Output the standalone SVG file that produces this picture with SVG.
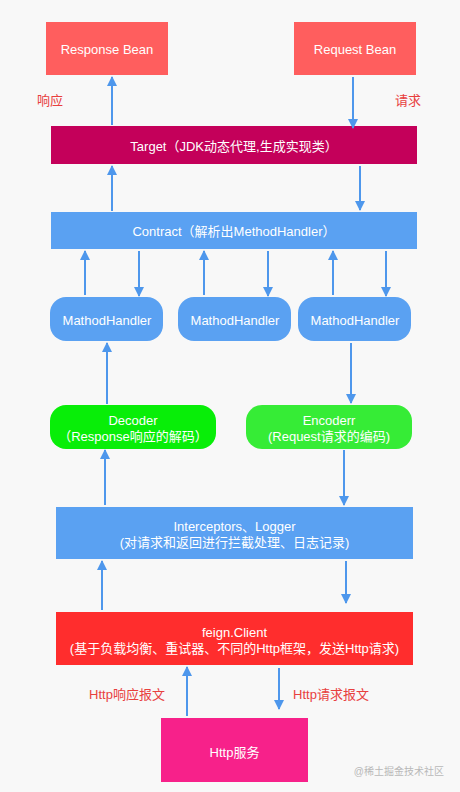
<svg xmlns="http://www.w3.org/2000/svg" width="460" height="792" viewBox="0 0 460 792">
<defs>
<marker id="ah" markerUnits="userSpaceOnUse" markerWidth="10" markerHeight="13" refX="9" refY="5" orient="auto">
<path d="M0,0 L10,5 L0,10 Z" fill="#4E97EC"/>
</marker>
<style>
text{font-family:"Liberation Sans","Noto Sans CJK SC",Arial,sans-serif;font-size:13px;fill:#FFFFFF;text-anchor:middle;dominant-baseline:central}
.lbl{fill:#E8403E}
.wm{fill:#B8B8B8;font-size:10px;text-anchor:end}
.c line{stroke:#4E97EC;stroke-width:2;marker-end:url(#ah)}
.blue{fill:#5AA1F2}
</style>
</defs>
<rect width="460" height="792" fill="#F8F8F8"/>
<g id="response-bean"><rect x="46" y="22" width="122" height="53" fill="#FF5E5E"/><text x="107" y="49">Response Bean</text></g>
<g id="request-bean"><rect x="294" y="22" width="122" height="53" fill="#FF5E5E"/><text x="355" y="49">Request Bean</text></g>
<g id="target"><rect x="51" y="126" width="366" height="38" fill="#C4005A"/><text x="234" y="146">Target（JDK动态代理,生成实现类）</text></g>
<g id="contract"><rect x="51" y="212" width="366" height="37" class="blue"/><text x="234" y="231">Contract（解析出MethodHandler）</text></g>
<g id="mh1"><rect x="50" y="297" width="113" height="44" rx="16" class="blue"/><text x="107" y="320">MathodHandler</text></g>
<g id="mh2"><rect x="178" y="297" width="113" height="44" rx="16" class="blue"/><text x="235" y="320">MathodHandler</text></g>
<g id="mh3"><rect x="298" y="297" width="113" height="44" rx="16" class="blue"/><text x="355" y="320">MathodHandler</text></g>
<g id="decoder"><rect x="50" y="405" width="166" height="44" rx="16" fill="#08EE08"/><text x="133" y="420">Decoder</text><text x="133" y="436">（Response响应的解码）</text></g>
<g id="encoder"><rect x="246" y="405" width="166" height="44" rx="16" fill="#36EC36"/><text x="329" y="420">Encoderr</text><text x="329" y="436">(Request请求的编码)</text></g>
<g id="interceptors"><rect x="56" y="507" width="357" height="52" class="blue"/><text x="234.5" y="526">Interceptors、Logger</text><text x="234.5" y="542">(对请求和返回进行拦截处理、日志记录)</text></g>
<g id="feign-client"><rect x="56" y="612" width="357" height="53" fill="#FF2D2D"/><text x="234.5" y="632">feign.Client</text><text x="234.5" y="648">(基于负载均衡、重试器、不同的Http框架，发送Http请求)</text></g>
<g id="http-service"><rect x="161" y="718" width="147" height="64" fill="#F7218A"/><text x="234.5" y="752">Http服务</text></g>
<g id="labels">
<text class="lbl" x="50" y="100">响应</text>
<text class="lbl" x="408" y="100">请求</text>
<text class="lbl" x="127" y="694">Http响应报文</text>
<text class="lbl" x="331" y="694">Http请求报文</text>
</g>
<g id="connectors" class="c">
<line x1="112" y1="125" x2="112" y2="77"/>
<line x1="353" y1="77" x2="353" y2="128"/>
<line x1="112" y1="211" x2="112" y2="166"/>
<line x1="360" y1="166" x2="360" y2="210"/>
<line x1="85" y1="295" x2="85" y2="251"/>
<line x1="139" y1="251" x2="139" y2="296"/>
<line x1="204" y1="295" x2="204" y2="251"/>
<line x1="268" y1="251" x2="268" y2="296"/>
<line x1="333" y1="295" x2="333" y2="251"/>
<line x1="386" y1="251" x2="386" y2="296"/>
<line x1="107" y1="404" x2="107" y2="343"/>
<line x1="351" y1="343" x2="351" y2="403"/>
<line x1="105" y1="505" x2="105" y2="450"/>
<line x1="344" y1="450" x2="344" y2="505"/>
<line x1="102" y1="610" x2="102" y2="561"/>
<line x1="346" y1="561" x2="346" y2="603"/>
<line x1="187" y1="716" x2="187" y2="667"/>
<line x1="279" y1="668" x2="279" y2="709"/>
</g>
<text class="wm" x="444" y="771">@稀土掘金技术社区</text>
</svg>
